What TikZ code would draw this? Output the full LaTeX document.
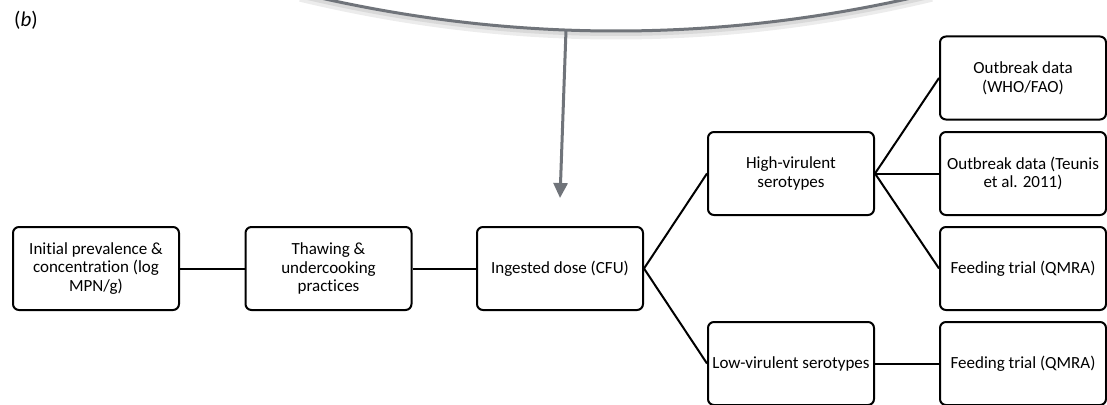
\documentclass[tikz,border=0pt]{standalone}
\usepackage{fontspec}
\setmainfont{Carlito}[Ligatures=NoCommon]
\usetikzlibrary{arrows.meta}
\definecolor{arcgray}{RGB}{112,116,122}
\tikzset{
  box/.style={draw, rounded corners=6pt, line width=2pt, minimum width=166pt, minimum height=83pt, align=center, inner sep=1pt, font=\fontsize{17}{18.8}\selectfont},
  link/.style={line width=2pt}
}

\begin{document}
\begin{tikzpicture}[x=1pt, y=-1pt]
  \useasboundingbox (0,0) rectangle (1107,404);
  \clip (0,0) rectangle (1107,404);
  \node[font=\fontsize{21}{24}\selectfont] (lab) at (26,20) {(\textit{b})};
  % Nodes
  \node[box] (init) at (96,268.5) {Initial prevalence \&\\concentration (log\\MPN/g)};
  \node[box] (thaw) at (328.5,268.5) {Thawing \&\\undercooking\\practices};
  \node[box] (dose) at (560,268.5) {Ingested dose (CFU)};
  \node[box] (high) at (791,173.5) {High-virulent\\serotypes};
  \node[box] (low) at (791,363.5) {Low-virulent serotypes};
  \node[box] (who) at (1023,78) {Outbreak data\\(WHO/FAO)};
  \node[box] (teunis) at (1023,173.5) {Outbreak data (Teunis\\et al. 2011)};
  \node[box] (feed1) at (1023,268.5) {Feeding trial (QMRA)};
  \node[box] (feed2) at (1023,363.5) {Feeding trial (QMRA)};
  % Edges
  \draw[link] (init) -- (thaw);
  \draw[link] (thaw) -- (dose);
  \draw[link] (dose.east) -- (high.west);
  \draw[link] (dose.east) -- (low.west);
  \foreach \t in {who,teunis,feed1}{
    \draw[link] (high.east) -- (\t.west);
  }
  \draw[link] (low) -- (feed2);
  % Arc from part (a)
  \coordinate (arcL) at (300,-6.8);
  \coordinate (arcR) at (932,-6.8);
  \coordinate (arcM) at (566,30);
  \draw[gray!15, line width=7pt] (arcL) ++(0,5) .. controls (510.7,48.6) and (721.3,48.6) .. (932,-1.8);
  \draw[gray!30, line width=4pt] (arcL) ++(0,3) .. controls (510.7,46.6) and (721.3,46.6) .. (932,-3.8);
  \draw[arcgray, line width=3pt] (arcL) .. controls (510.7,43.6) and (721.3,43.6) .. (arcR);
  \draw[arcgray, line width=3pt, -{Triangle[width=14pt,length=15pt]}] (arcM) -- (560,198);
\end{tikzpicture}
\end{document}
